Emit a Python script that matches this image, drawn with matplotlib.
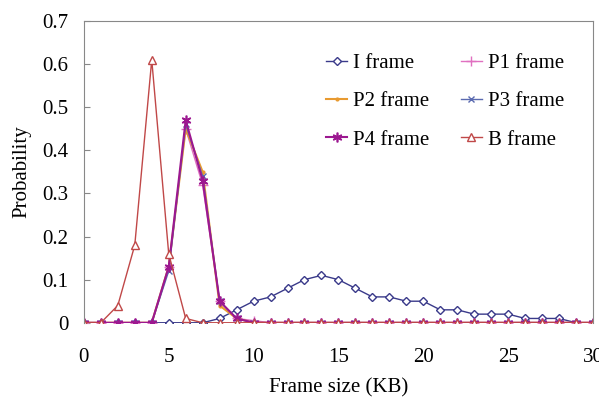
import matplotlib
matplotlib.use("Agg")
import matplotlib.pyplot as plt

plt.rcParams['font.family'] = ['Liberation Serif', 'DejaVu Serif']

frame_size = list(range(31))

i_frame = [0, 0, 0, 0, 0, 0, 0, 0, 0.01, 0.03, 0.05, 0.06, 0.08, 0.10, 0.11, 0.10,
           0.08, 0.06, 0.06, 0.05, 0.05, 0.03, 0.03, 0.02, 0.02, 0.02, 0.01, 0.01,
           0.01, 0, 0]
p1_frame = [0, 0, 0, 0, 0, 0.13, 0.45, 0.32, 0.05, 0.01, 0.005] + [0] * 20
p2_frame = [0, 0, 0, 0, 0, 0.13, 0.45, 0.35, 0.04, 0.01, 0] + [0] * 20
p3_frame = [0, 0, 0, 0, 0, 0.12, 0.46, 0.34, 0.05, 0.01, 0] + [0] * 20
p4_frame = [0, 0, 0, 0, 0, 0.13, 0.47, 0.33, 0.05, 0.01, 0] + [0] * 20
b_frame = [0, 0, 0.04, 0.18, 0.61, 0.16, 0.01, 0, 0, 0, 0] + [0] * 20

fig = plt.figure(figsize=(5.99, 3.97), dpi=100)
ax = fig.add_axes([0.14, 0.187, 0.85, 0.76])

l_i, = ax.plot(frame_size, i_frame, color='#3a3a8a', lw=1, marker='D', ms=4.5,
               mfc='white', mec='#3a3a8a', label='I frame')
l_p1, = ax.plot(frame_size, p1_frame, color='#e070c0', lw=1, marker='+', ms=7,
                label='P1 frame')
l_p2, = ax.plot(frame_size, p2_frame, color='#e89a30', lw=1.5, marker='o', ms=2,
                label='P2 frame')
l_p3, = ax.plot(frame_size, p3_frame, color='#5a6ab0', lw=1, marker='x', ms=5,
                label='P3 frame')
l_p4, = ax.plot(frame_size, p4_frame, color='#9c1890', lw=1.5, marker=(6, 2, 0),
                ms=7, mew=1.2, label='P4 frame')
l_b, = ax.plot(frame_size, b_frame, color='#c04848', lw=1, marker='^', ms=6,
               mfc='white', mec='#c04848', label='B frame')

ax.set_xlim(0, 30)
ax.set_ylim(0, 0.7)
ax.set_xticks(range(0, 31, 5))
ax.set_yticks([0, 0.1, 0.2, 0.3, 0.4, 0.5, 0.6, 0.7])
ax.set_yticklabels(['0', '0.1', '0.2', '0.3', '0.4', '0.5', '0.6', '0.7'])
ax.tick_params(direction='in', labelsize=15, length=4, color='#888888', pad=11)
ax.tick_params(axis='x', length=0, pad=18)
for s in ax.spines.values():
    s.set_color('#888888')
ax.spines['bottom'].set_visible(False)
ax.set_xlabel('Frame size (KB)', fontsize=15, labelpad=8)
ax.set_ylabel('Probability', fontsize=15, labelpad=8)

# legend filled row by row like the original
handles = [l_i, l_p2, l_p4, l_p1, l_p3, l_b]
ax.legend(handles=handles, labels=[h.get_label() for h in handles],
          ncol=2, loc='upper right', frameon=False, fontsize=15,
          handlelength=1.0, columnspacing=1.5, labelspacing=0.9,
          bbox_to_anchor=(0.98, 0.955), handletextpad=0.3)

fig.savefig('out.png', dpi=100)
